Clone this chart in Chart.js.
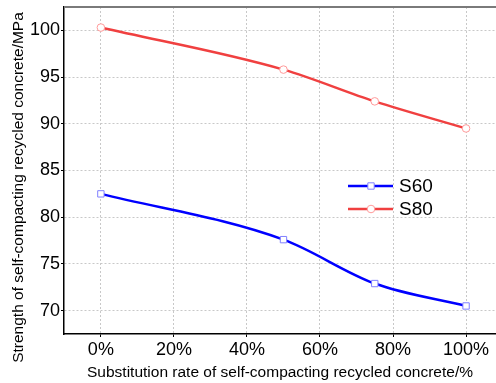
<!DOCTYPE html>
<html lang="en">
<head>
    <meta charset="UTF-8">
    <title>chart.js</title>
    <script src="https://cdn.jsdelivr.net/npm/chart.js@4.4.0/dist/chart.umd.min.js"></script>
    <style>
        body{ margin:0; background:#fff; }
        #board{ width:496px; height:383px; }
    </style>
</head>
<body>
    <div id="board">
        <canvas id="chart1" width="496" height="383"></canvas>
    </div>
<script>
    // 데이터
    const rates = [0, 50, 75, 100];           // 치환율 %
    const s60 = [82.5, 77.6, 72.9, 70.5];
    const s80 = [100.3, 95.8, 92.4, 89.5];
    const xTicks = [0, 20, 40, 60, 80, 100];
    const yTicks = [70, 75, 80, 85, 90, 95, 100];
    const seriesNames = ['S60', 'S80'];
    const yTitle = 'Strength of self-compacting recycled concrete/MPa';
    const xTitle = 'Substitution rate of self-compacting recycled concrete/%';

    const FONT = 'Liberation Sans, Arial, sans-serif';

    // 위쪽 테두리 + y축 제목 + 범례
    const extras = {
        id: 'extras',
        afterDraw(chart){
            const ctx = chart.ctx;
            const a = chart.chartArea;
            ctx.save();
            ctx.strokeStyle = '#7a7a7a';
            ctx.lineWidth = 2;
            ctx.beginPath();
            ctx.moveTo(a.left, a.top);
            ctx.lineTo(a.right, a.top);
            ctx.stroke();

            // y title
            ctx.translate(19, 187.5);
            ctx.rotate(-Math.PI/2);
            ctx.fillStyle = '#000';
            ctx.font = '15.5px ' + FONT;
            ctx.textAlign = 'center';
            ctx.textBaseline = 'middle';
            ctx.fillText(yTitle, 0, 0);
            ctx.restore();

            // legend
            ctx.save();
            chart.data.datasets.forEach((ds, i) => {
                const y = 186 + i*23;
                ctx.strokeStyle = ds.borderColor;
                ctx.lineWidth = 2.5;
                ctx.beginPath();
                ctx.moveTo(348, y);
                ctx.lineTo(393, y);
                ctx.stroke();
                ctx.fillStyle = ds.pointBackgroundColor;
                ctx.strokeStyle = ds.pointBorderColor;
                ctx.lineWidth = 1;
                ctx.beginPath();
                if (ds.pointStyle === 'rect') {
                    const s = Math.SQRT1_2 * ds.pointRadius;
                    ctx.rect(371 - s, y - s, 2*s, 2*s);
                } else {
                    ctx.arc(371, y, ds.pointRadius, 0, Math.PI*2);
                }
                ctx.fill();
                ctx.stroke();
                ctx.fillStyle = '#000';
                ctx.font = '19px ' + FONT;
                ctx.textBaseline = 'middle';
                ctx.fillText(ds.label, 399, y + 1);
            });
            ctx.restore();
        }
    };

    const ctx = document.getElementById('chart1').getContext('2d');
    new Chart(ctx, {
        type: 'line',
        data: {
            datasets: [{
                label: seriesNames[0],
                data: rates.map((r, i) => ({x: r, y: s60[i]})),
                borderColor: '#0000ff',
                borderWidth: 2.5,
                cubicInterpolationMode: 'monotone',
                pointStyle: 'rect',
                pointRadius: 4.5,
                pointBackgroundColor: '#ffffff',
                pointBorderColor: '#8080ff',
                pointBorderWidth: 1
            }, {
                label: seriesNames[1],
                data: rates.map((r, i) => ({x: r, y: s80[i]})),
                borderColor: '#f04040',
                borderWidth: 2.5,
                cubicInterpolationMode: 'monotone',
                pointStyle: 'circle',
                pointRadius: 3.8,
                pointBackgroundColor: '#ffffff',
                pointBorderColor: '#ff9a9a',
                pointBorderWidth: 1
            }]
        },
        options: {
            responsive: false,
            animation: false,
            layout: { autoPadding: false, padding: { top: 7, right: 0, left: 0, bottom: 0 } },
            plugins: {
                legend: { display: false },
                tooltip: { enabled: false }
            },
            scales: {
                x: {
                    type: 'linear',
                    min: -10.1,
                    max: 108.2,
                    afterBuildTicks: s => { s.ticks = xTicks.map(v => ({value: v})); },
                    afterFit: s => { s.height = 49; s.paddingLeft = 0; s.paddingRight = 0; },
                    grid: {
                        color: '#c8c8c8',
                        tickColor: '#000',
                        tickLength: 3,
                        tickBorderDash: []
                    },
                    border: { color: '#000', width: 1.5, dash: [2, 2] },
                    ticks: {
                        color: '#000',
                        font: { family: FONT, size: 18 },
                        padding: 2,
                        maxRotation: 0,
                        callback: v => v + '%'
                    },
                    title: {
                        display: true,
                        text: xTitle,
                        color: '#000',
                        font: { family: FONT, size: 15.5 },
                        padding: { top: 0, bottom: 1 }
                    }
                },
                y: {
                    min: 67.5,
                    max: 102.5,
                    afterBuildTicks: s => { s.ticks = yTicks.map(v => ({value: v})); },
                    afterFit: s => { s.width = 64; s.paddingTop = 0; s.paddingBottom = 0; },
                    grid: {
                        color: '#c8c8c8',
                        tickColor: '#000',
                        tickLength: 3,
                        tickBorderDash: []
                    },
                    border: { color: '#000', width: 1.5, dash: [2, 2] },
                    ticks: {
                        color: '#000',
                        font: { family: FONT, size: 18 },
                        padding: 1
                    }
                }
            }
        },
        plugins: [extras]
    });
</script>
</body>
</html>
